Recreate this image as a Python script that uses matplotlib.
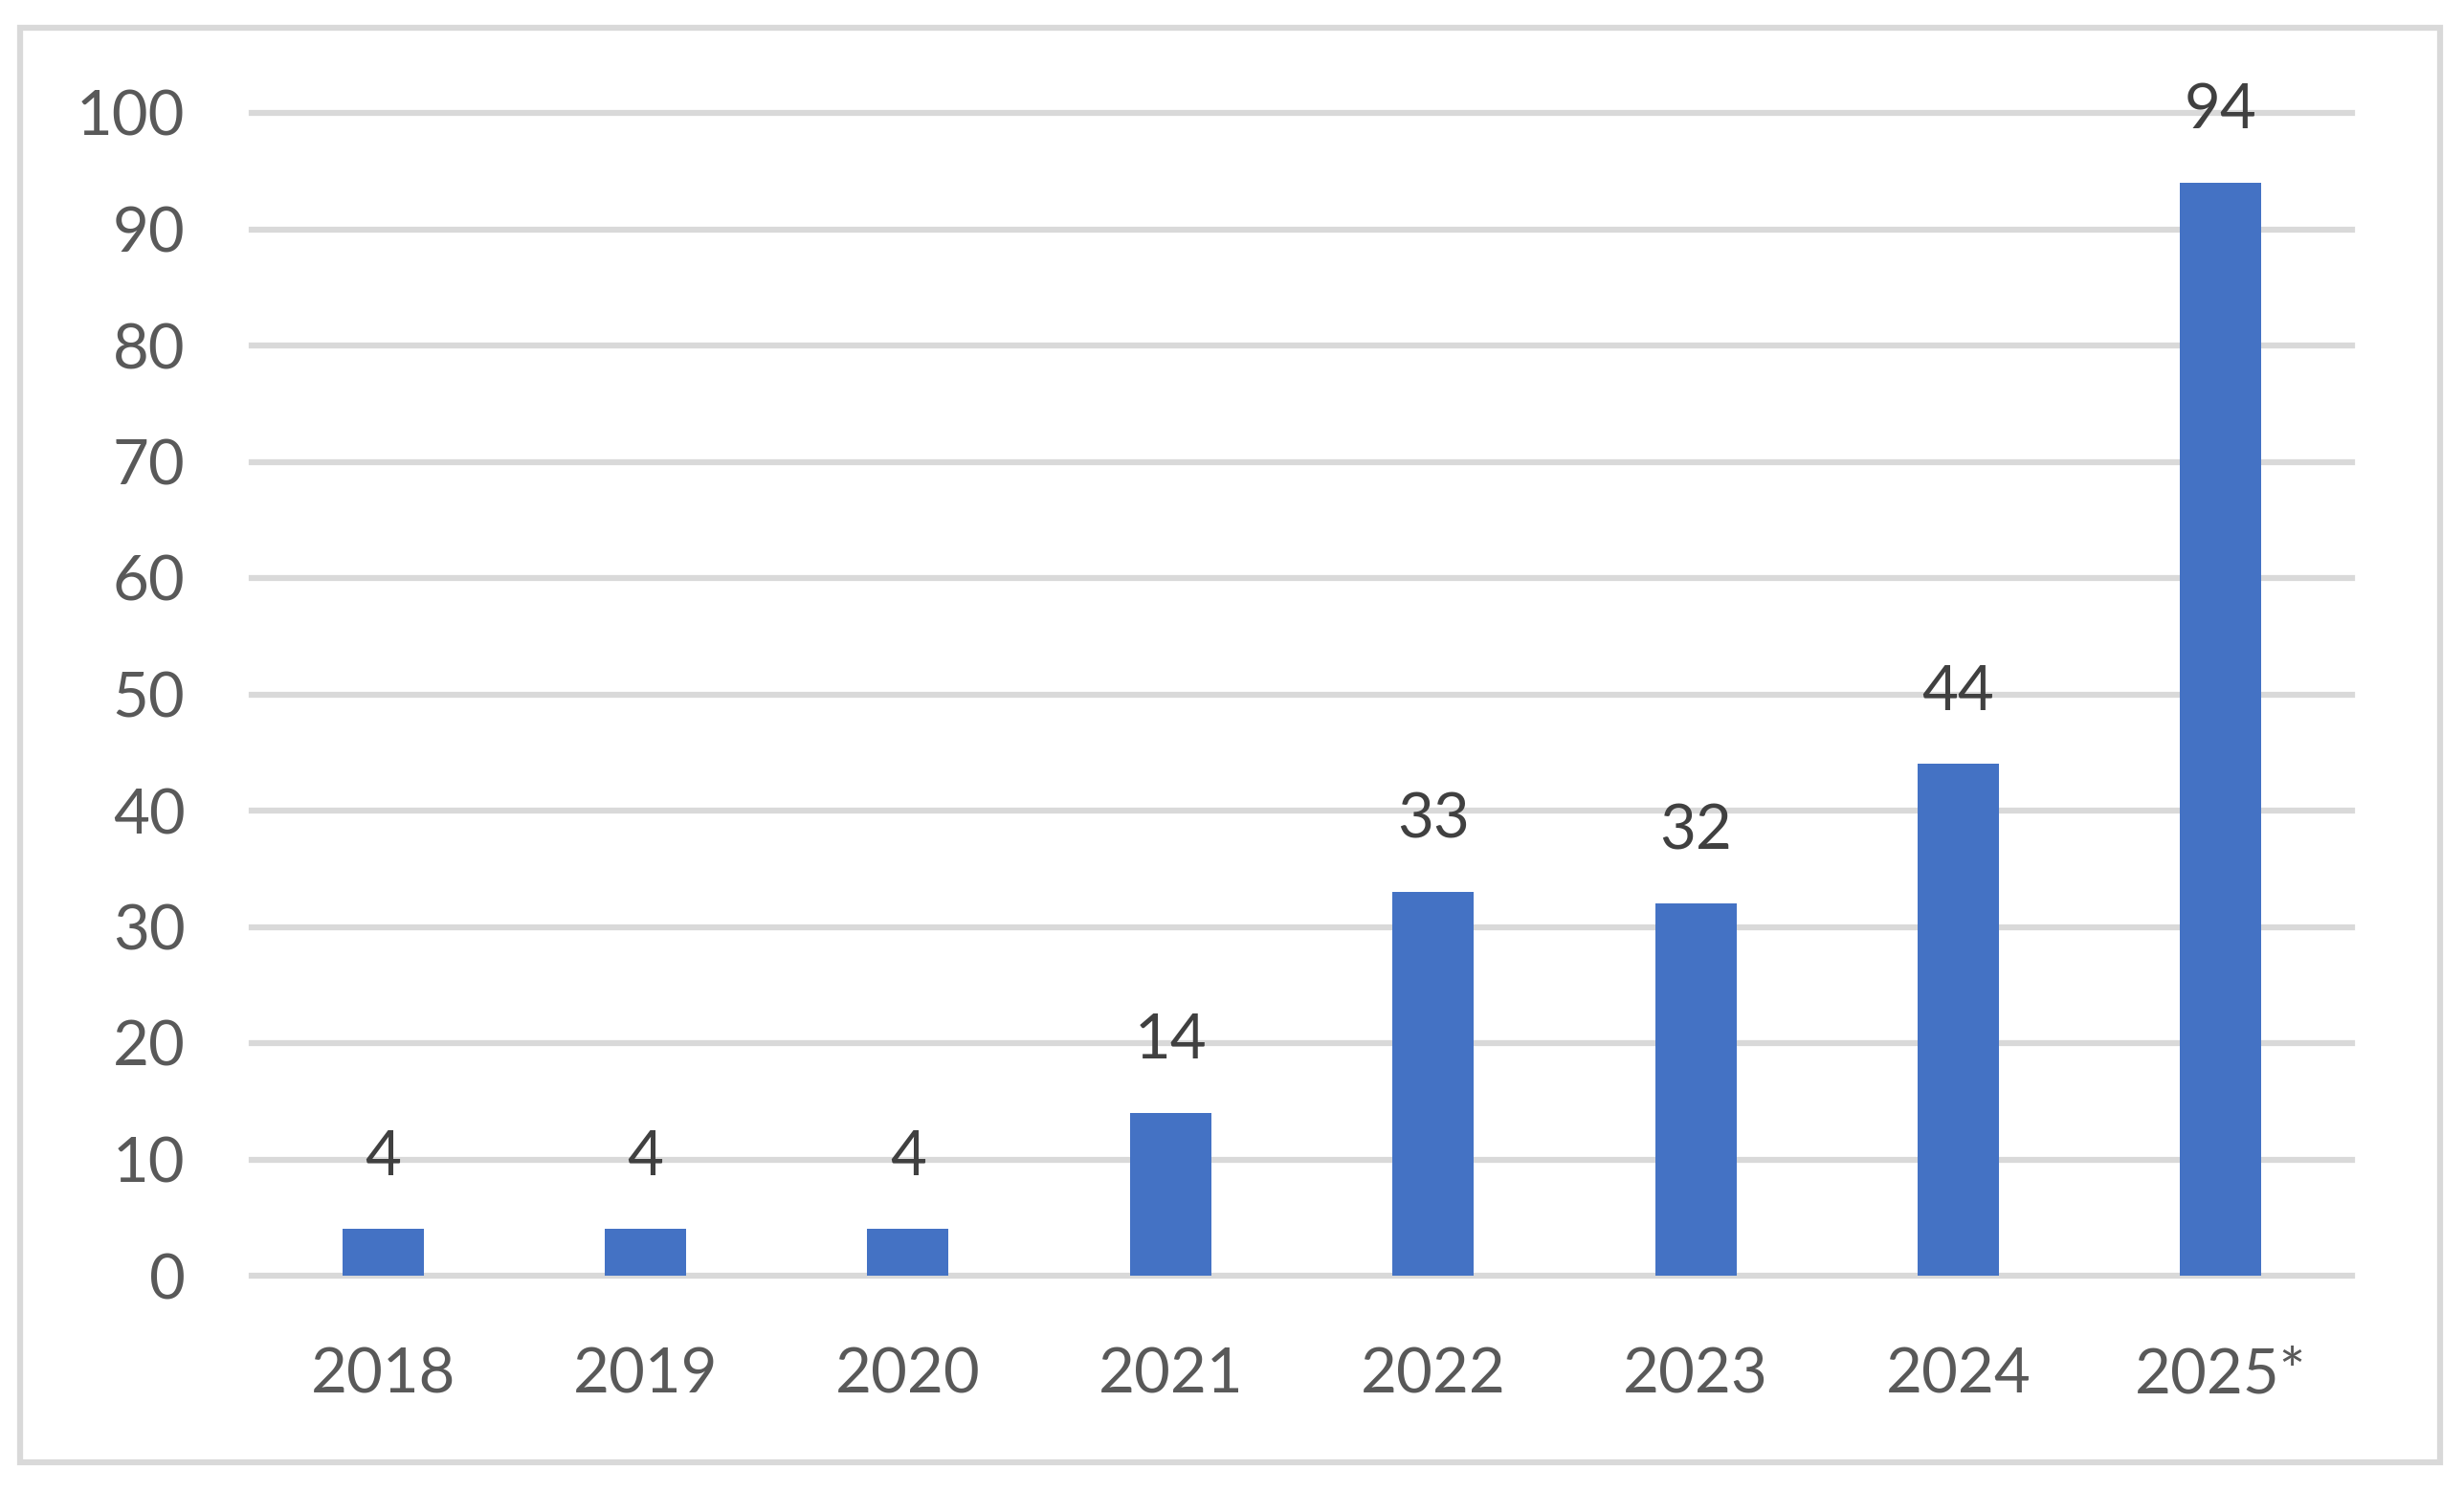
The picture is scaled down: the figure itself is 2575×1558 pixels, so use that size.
import matplotlib
matplotlib.use("Agg")
import matplotlib.pyplot as plt
from matplotlib.patches import Rectangle

years = ["2018", "2019", "2020", "2021", "2022", "2023", "2024", "2025*"]
counts = [4, 4, 4, 14, 33, 32, 44, 94]
y_ticks = [0, 10, 20, 30, 40, 50, 60, 70, 80, 90, 100]

plt.rcParams["font.family"] = ["Lato", "DejaVu Sans"]

fig = plt.figure(figsize=(25.75, 15.58), dpi=100)
ax = fig.add_axes([263 / 2575, 1 - 1333 / 1558, (2458 - 263) / 2575,
                   (1333 - 118) / 1558])

# outer frame like the Excel chart area
fig.patches.append(Rectangle((21 / 2575, 1 - 1528 / 1558), 2529 / 2575,
                             1499 / 1558, transform=fig.transFigure,
                             fill=False, edgecolor="#D9D9D9", linewidth=4.5))

x = list(range(len(years)))
ax.bar(x, counts, width=0.31, color="#4472C4", zorder=3)

for i, val in enumerate(counts):
  ax.annotate(str(val), (i, val), xytext=(0, 54), textcoords="offset points",
              ha="center", va="center", fontsize=47, color="#404040")

ax.set_xlim(-0.5, len(years) - 0.5)
ax.set_ylim(0, 100)
ax.set_xticks(x)
ax.set_xticklabels(years)
ax.set_yticks(y_ticks)

ax.tick_params(axis="both", length=0, labelsize=47, labelcolor="#595959")
ax.tick_params(axis="y", pad=50)
ax.tick_params(axis="x", pad=54)

ax.yaxis.grid(True, color="#D9D9D9", linewidth=4.5, zorder=0)
for gl in ax.get_ygridlines():
  gl.set_clip_on(False)
ax.set_axisbelow(True)
for s in ax.spines.values():
  s.set_visible(False)

fig.savefig("out.png", dpi=100, facecolor="white")
